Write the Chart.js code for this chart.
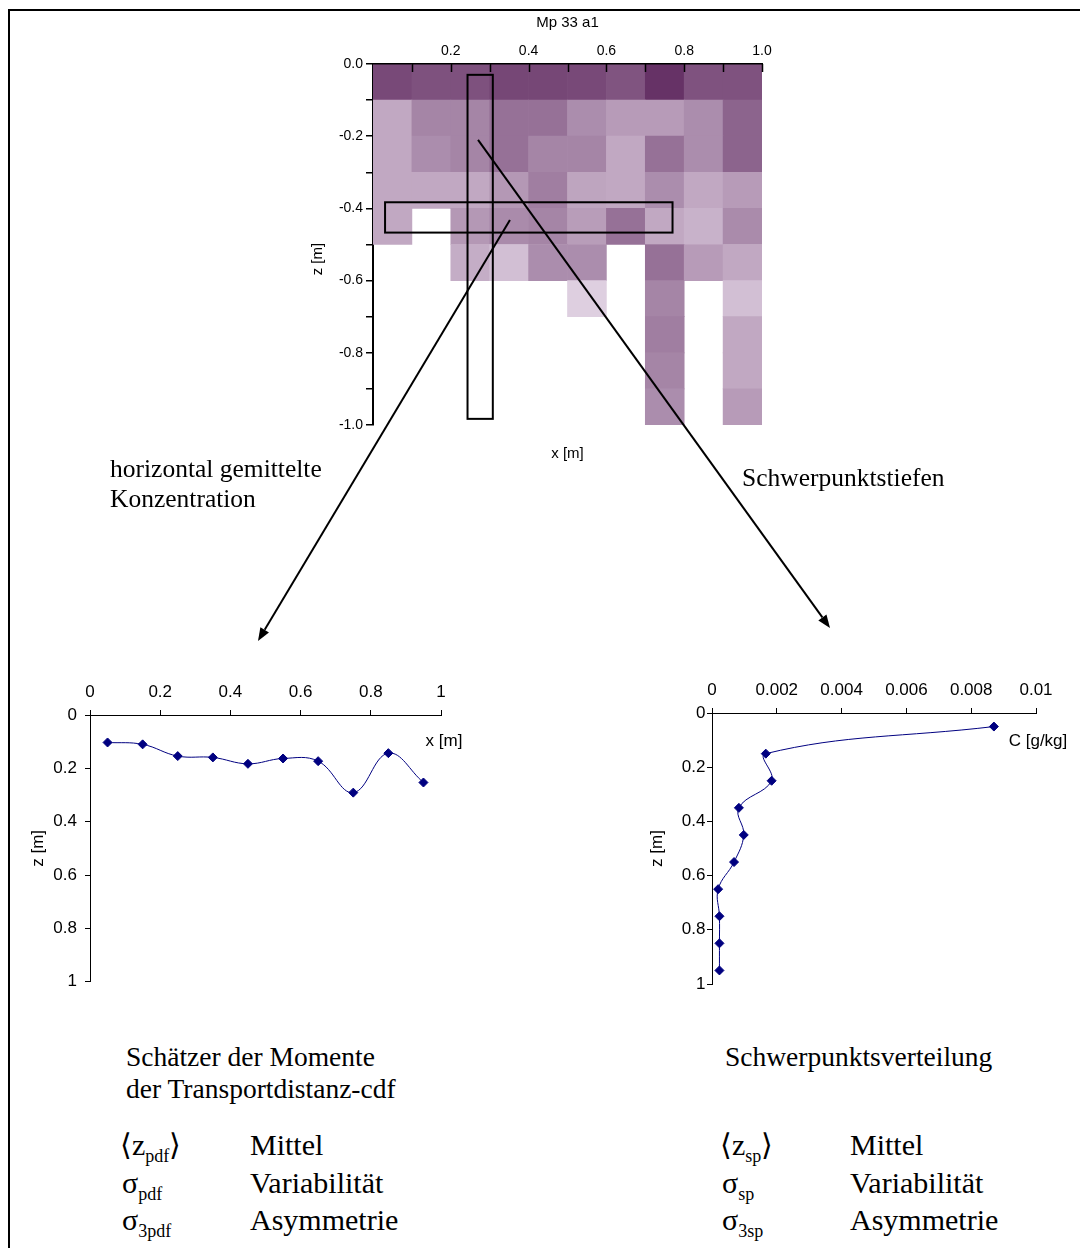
<!DOCTYPE html>
<html lang="de">
<head>
<meta charset="utf-8">
<title>Mp 33 a1</title>
<script src="https://cdn.jsdelivr.net/npm/chart.js@4.4.0/dist/chart.umd.min.js"></script>
<style>
  body { margin: 0; background: #fff; }
  #page { position: relative; width: 1080px; height: 1248px; overflow: hidden; color: #000;
          font-family: "Liberation Serif", "Times New Roman", serif; }
  #frame { position: absolute; left: 8px; top: 9px; width: 1100px; height: 1300px;
           border-left: 2px solid #000; border-top: 2px solid #000; }
  canvas { position: absolute; }
  .txt { position: absolute; white-space: nowrap; }
  .head { font-size: 25.5px; line-height: 30px; }
  .cap { font-size: 27.5px; line-height: 32px; }
  .sym, .word { font-size: 30px; line-height: 30px; }
  .sym sub { font-size: 18px; vertical-align: -7px; line-height: 0; }
</style>
</head>
<body>
<div id="page">
  <div id="frame"></div>

  <canvas id="mapChart" width="480" height="470" style="left:300px; top:0px"></canvas>
  <canvas id="meanChart" width="460" height="330" style="left:20px; top:670px"></canvas>
  <canvas id="concChart" width="440" height="330" style="left:640px; top:670px"></canvas>
  <canvas id="arrows" width="1080" height="700" style="left:0; top:0; pointer-events:none"></canvas>

  <div class="txt head" style="left:110px; top:454px">horizontal gemittelte<br>Konzentration</div>
  <div class="txt head" style="left:742px; top:463px">Schwerpunktstiefen</div>

  <div class="txt cap" style="left:126px; top:1041px">Schätzer der Momente<br>der Transportdistanz-cdf</div>
  <div class="txt cap" style="left:725px; top:1041px">Schwerpunktsverteilung</div>

  <div class="txt sym" style="left:120px; top:1130px">⟨z<sub>pdf</sub>⟩</div>
  <div class="txt word" style="left:250px; top:1130px">Mittel</div>
  <div class="txt sym" style="left:122px; top:1168px">σ<sub>pdf</sub></div>
  <div class="txt word" style="left:250px; top:1168px">Variabilität</div>
  <div class="txt sym" style="left:122px; top:1205px">σ<sub>3pdf</sub></div>
  <div class="txt word" style="left:250px; top:1205px">Asymmetrie</div>

  <div class="txt sym" style="left:720px; top:1130px">⟨z<sub>sp</sub>⟩</div>
  <div class="txt word" style="left:850px; top:1130px">Mittel</div>
  <div class="txt sym" style="left:722px; top:1168px">σ<sub>sp</sub></div>
  <div class="txt word" style="left:850px; top:1168px">Variabilität</div>
  <div class="txt sym" style="left:722px; top:1205px">σ<sub>3sp</sub></div>
  <div class="txt word" style="left:850px; top:1205px">Asymmetrie</div>
</div>

<script>
// --- sampling grid Mp 33 a1 (x across, z down) ---
const mapColCentres = [0.05, 0.15, 0.25, 0.35, 0.45, 0.55, 0.65, 0.75, 0.85, 0.95];
const mapDepthEdges = [0, -0.1, -0.2, -0.3, -0.4, -0.5, -0.6, -0.7, -0.8, -0.9, -1.0];
// relative tracer intensity per cell (0 = faint, 1 = strongest), top row first; null = no sample
const mapIntensity = [
  [0.855, 0.81, 0.81, 0.87, 0.87, 0.855, 0.79, 1.0, 0.8, 0.8],
  [0.27, 0.49, 0.49, 0.61, 0.61, 0.44, 0.35, 0.35, 0.44, 0.69],
  [0.27, 0.44, 0.49, 0.61, 0.49, 0.49, 0.27, 0.61, 0.44, 0.69],
  [0.27, 0.27, 0.27, 0.37, 0.53, 0.29, 0.27, 0.44, 0.27, 0.35],
  [0.27, null, 0.37, 0.45, 0.49, 0.34, 0.61, 0.27, 0.21, 0.45],
  [null, null, 0.24, 0.13, 0.44, 0.44, null, 0.61, 0.35, 0.27],
  [null, null, null, null, null, 0.03, null, 0.49, null, 0.13],
  [null, null, null, null, null, null, null, 0.53, null, 0.27],
  [null, null, null, null, null, null, null, 0.49, null, 0.27],
  [null, null, null, null, null, null, null, 0.44, null, 0.35],
];
const mapXLabels = [0.2, 0.4, 0.6, 0.8, 1.0];
const mapZLabels = [0, -0.2, -0.4, -0.6, -0.8, -1.0];

// --- horizontally averaged depth per column ---
const meanX = [0.05, 0.15, 0.25, 0.35, 0.45, 0.55, 0.65, 0.75, 0.85, 0.95];
const meanDepth = [0.103, 0.11, 0.154, 0.159, 0.183, 0.163, 0.173, 0.291, 0.143, 0.253];
const meanTicks = [0, 0.2, 0.4, 0.6, 0.8, 1];

// --- concentration per depth layer ---
const layerDepth = [0.05, 0.15, 0.25, 0.35, 0.45, 0.55, 0.65, 0.75, 0.85, 0.95];
const layerConc = [0.0087, 0.00166, 0.00184, 0.00083, 0.00098, 0.00068, 0.00019, 0.00023, 0.00023, 0.00023];
const concTicks = [0, 0.002, 0.004, 0.006, 0.008, 0.01];
const depthTicks = [0, 0.2, 0.4, 0.6, 0.8, 1];

// marked column and layer in the grid, and where the arrows leave them
const columnBox = { x0: 0.243, x1: 0.308, z0: -0.03, z1: -0.983 };
const layerBox = { x0: 0.031, x1: 0.770, z0: -0.383, z1: -0.467 };
const arrowFromLayer = { x: 0.352, z: -0.432, tip: [258, 641] };
const arrowFromColumn = { x: 0.270, z: -0.210, tip: [830, 628] };

const SANS = '"Liberation Sans", Arial, sans-serif';
const lightCell = [226, 212, 228];
const darkCell = [102, 50, 102];

function cellColour(t) {
  const c = lightCell.map((l, i) => Math.round(l + (darkCell[i] - l) * t));
  return `rgb(${c.join(',')})`;
}

function near(list, v) {
  return list.some((t) => Math.abs(t - v) < 1e-6);
}

// one floating bar per grid cell
const cells = [];
const cellColours = [];
mapIntensity.forEach((row, r) => {
  row.forEach((v, c) => {
    if (v === null) return;
    cells.push({ x: mapColCentres[c], y: [mapDepthEdges[r], mapDepthEdges[r + 1]] });
    cellColours.push(cellColour(v));
  });
});

const mapOverlay = {
  id: 'mapOverlay',
  afterDatasetsDraw(chart) {
    const { ctx, scales: { x, y }, chartArea } = chart;
    ctx.save();
    ctx.strokeStyle = '#000';
    ctx.lineWidth = 2;
    for (const b of [columnBox, layerBox]) {
      const l = x.getPixelForValue(b.x0);
      const r = x.getPixelForValue(b.x1);
      const t = y.getPixelForValue(b.z0);
      const btm = y.getPixelForValue(b.z1);
      ctx.strokeRect(l, t, r - l, btm - t);
    }
    // tick marks of the top axis point into the plot
    ctx.lineWidth = 1.5;
    ctx.beginPath();
    for (let i = 1; i <= 10; i++) {
      const px = Math.round(x.getPixelForValue(i / 10)) + 0.5;
      ctx.moveTo(px, chartArea.top);
      ctx.lineTo(px, chartArea.top + 8);
    }
    ctx.stroke();
    ctx.restore();
  },
};

const mapChart = new Chart(document.getElementById('mapChart'), {
  type: 'bar',
  data: {
    datasets: [{
      data: cells,
      backgroundColor: cellColours,
      borderWidth: 0,
      barPercentage: 1,
      categoryPercentage: 1,
      xAxisID: 'x',
      yAxisID: 'y',
    }],
  },
  options: {
    responsive: false,
    animation: false,
    events: [],
    layout: { padding: { left: 0, right: 18, top: 0, bottom: 0 } },
    plugins: { legend: { display: false }, tooltip: { enabled: false } },
    scales: {
      x: {
        type: 'linear', position: 'top', min: 0, max: 1, offset: false, z: 1,
        ticks: {
          stepSize: 0.1, autoSkip: false, maxRotation: 0, padding: -4, color: '#000',
          font: { family: SANS, size: 14 },
          callback: (v) => (near(mapXLabels, v) ? v.toFixed(1) : ''),
        },
        grid: { display: false, offset: false },
        border: { color: '#000', width: 2 },
        title: { display: true, text: 'Mp 33 a1', color: '#000', font: { family: SANS, size: 15 }, padding: { top: 14, bottom: 0 } },
        afterFit: (s) => { s.height = 64; },
      },
      x2: {
        type: 'linear', position: 'bottom', min: 0, max: 1,
        ticks: { display: false },
        grid: { display: false },
        border: { display: false },
        title: { display: true, text: 'x [m]', color: '#000', font: { family: SANS, size: 15 }, padding: { top: 0, bottom: 7 } },
        afterFit: (s) => { s.height = 45; },
      },
      y: {
        type: 'linear', min: -1, max: 0, stacked: false, z: 1,
        ticks: {
          stepSize: 0.1, autoSkip: false, padding: 3, color: '#000',
          font: { family: SANS, size: 14 },
          callback: (v) => (near(mapZLabels, v) ? v.toFixed(1) : ''),
        },
        grid: { drawOnChartArea: false, tickLength: 7, color: '#000', lineWidth: 1.5 },
        border: { color: '#000', width: 2 },
        // trailing blanks nudge the rotated label a little further down the axis
        title: { display: true, text: 'z [m]       ', color: '#000', font: { family: SANS, size: 15 }, padding: { top: 9, bottom: 0 } },
        afterFit: (s) => { s.width = 73; },
      },
    },
  },
  plugins: [mapOverlay],
});

// axis name written just below the right end of the top axis
const axisNote = {
  id: 'axisNote',
  afterDraw(chart, args, opts) {
    const { ctx, chartArea, scales: { x } } = chart;
    ctx.save();
    ctx.font = `17px ${SANS}`;
    ctx.fillStyle = '#000';
    ctx.textAlign = 'center';
    ctx.textBaseline = 'middle';
    ctx.fillText(opts.text, x.getPixelForValue(x.max) + opts.dx, chartArea.top + opts.dy);
    ctx.restore();
  },
};

function depthChart(id, points, xTicks, cfg) {
  return new Chart(document.getElementById(id), {
    type: 'line',
    data: {
      datasets: [{
        data: points,
        borderColor: '#000080',
        borderWidth: 1,
        tension: 0.4,
        pointStyle: 'rectRot',
        pointRadius: 4.5,
        pointBackgroundColor: '#000080',
        pointBorderColor: '#000080',
        pointBorderWidth: 1,
      }],
    },
    options: {
      responsive: false,
      animation: false,
      events: [],
      layout: { padding: { left: 0, top: 0, right: cfg.padRight, bottom: cfg.padBottom } },
      plugins: {
        legend: { display: false },
        tooltip: { enabled: false },
        axisNote: { text: cfg.note, dx: cfg.noteDx, dy: cfg.noteDy },
      },
      scales: {
        x: {
          type: 'linear', position: 'top', min: xTicks[0], max: xTicks[xTicks.length - 1],
          afterBuildTicks: (s) => { s.ticks = xTicks.map((v) => ({ value: v })); },
          afterFit: (s) => { s.height = cfg.topHeight; },
          ticks: { autoSkip: false, maxRotation: 0, padding: 7, color: '#000', font: { family: SANS, size: 17 }, callback: (v) => String(v) },
          grid: { drawOnChartArea: false, tickLength: 5, color: '#000', lineWidth: 1 },
          border: { color: '#000', width: 1 },
        },
        y: {
          type: 'linear', reverse: true, min: 0, max: 1,
          afterBuildTicks: (s) => { s.ticks = depthTicks.map((v) => ({ value: v })); },
          afterFit: (s) => { s.width = cfg.yWidth; },
          ticks: { autoSkip: false, padding: cfg.yTickPad, color: '#000', font: { family: SANS, size: 17 }, callback: (v) => String(v) },
          grid: { drawOnChartArea: false, tickLength: 5, color: '#000', lineWidth: 1 },
          border: { color: '#000', width: 1 },
          title: { display: true, text: 'z [m]', color: '#000', font: { family: SANS, size: 17 }, padding: { top: cfg.titlePad, bottom: 0 } },
        },
      },
    },
    plugins: [axisNote],
  });
}

depthChart('meanChart', meanX.map((x, i) => ({ x, y: meanDepth[i] })), meanTicks, {
  padRight: 39, padBottom: 16, topHeight: 45, yWidth: 70, yTickPad: 8, titlePad: 7.8,
  note: 'x [m]', noteDx: 3, noteDy: 26,
});

depthChart('concChart', layerDepth.map((z, i) => ({ x: layerConc[i], y: z })), concTicks, {
  padRight: 44, padBottom: 16, topHeight: 43, yWidth: 72, yTickPad: 1.5, titlePad: 6.8,
  note: 'C [g/kg]', noteDx: 2, noteDy: 28,
});

// arrows from the marked column / layer down to the derived profiles
function drawArrow(ctx, x0, y0, x1, y1) {
  const ang = Math.atan2(y1 - y0, x1 - x0);
  const len = 13, half = 5;
  const bx = x1 - len * Math.cos(ang), by = y1 - len * Math.sin(ang);
  ctx.beginPath();
  ctx.moveTo(x0, y0);
  ctx.lineTo(bx, by);
  ctx.stroke();
  ctx.beginPath();
  ctx.moveTo(x1, y1);
  ctx.lineTo(bx + half * Math.sin(ang), by - half * Math.cos(ang));
  ctx.lineTo(bx - half * Math.sin(ang), by + half * Math.cos(ang));
  ctx.closePath();
  ctx.fill();
}

const arrowCtx = document.getElementById('arrows').getContext('2d');
const mapCanvas = document.getElementById('mapChart');
const mapLeft = mapCanvas.offsetLeft, mapTop = mapCanvas.offsetTop;
arrowCtx.strokeStyle = '#000';
arrowCtx.fillStyle = '#000';
arrowCtx.lineWidth = 2;
for (const a of [arrowFromLayer, arrowFromColumn]) {
  const sx = mapLeft + mapChart.scales.x.getPixelForValue(a.x);
  const sy = mapTop + mapChart.scales.y.getPixelForValue(a.z);
  drawArrow(arrowCtx, sx, sy, a.tip[0], a.tip[1]);
}
</script>
</body>
</html>
